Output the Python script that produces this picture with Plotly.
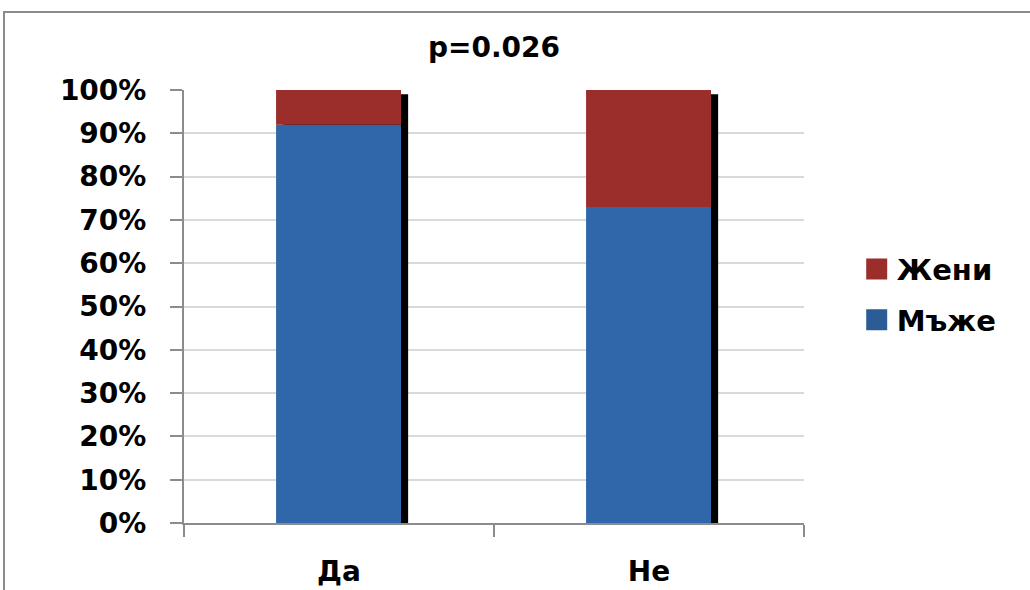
import plotly.graph_objects as go

categories = ["Да", "Не"]
men = [92, 73]
women = [8, 27]
series_names = ["Мъже", "Жени"]
title_text = "p=0.026"

totals = [m + w for m, w in zip(men, women)]

BLUE = "#3066AA"
RED = "#9B2D2B"
FONT = "DejaVu Sans"

fig = go.Figure()

# shadow behind bars
fig.add_trace(go.Bar(
    x=categories, y=totals, base=[-1] * len(categories),
    offset=-0.18, width=0.403,
    marker=dict(color="black", line=dict(width=0)),
    showlegend=False, hoverinfo="skip",
))
fig.add_trace(go.Bar(
    x=categories, y=men, name=series_names[0],
    offset=-0.203, width=0.403,
    marker=dict(color=BLUE, line=dict(width=0)),
    showlegend=False,
))
fig.add_trace(go.Bar(
    x=categories, y=women, base=men, name=series_names[1],
    offset=-0.203, width=0.403,
    marker=dict(color=RED, line=dict(width=0)),
    showlegend=False,
))

# legend entries with larger square swatches
fig.add_trace(go.Scatter(
    x=[None], y=[None], mode="markers", name=series_names[1],
    marker=dict(symbol="square", size=16, color=RED,
                line=dict(color=RED, width=5)),
    legendgroup="w",
))
fig.add_trace(go.Scatter(
    x=[None], y=[None], mode="markers", name=series_names[0],
    marker=dict(symbol="square", size=16, color="#2B5C96",
                line=dict(color="#2B5C96", width=5)),
    legendgroup="m",
))

fig.update_layout(
    width=1030, height=590,
    margin=dict(l=184, r=226, t=90, b=67, autoexpand=False),
    barmode="overlay",
    paper_bgcolor="white",
    plot_bgcolor="white",
    font=dict(family=FONT, size=28, color="black", weight="bold"),
    title=dict(
        text=title_text, x=0.5, xref="paper", xanchor="center",
        y=1 - 47 / 590, yanchor="middle",
        font=dict(family=FONT, size=28, color="black", weight="bold"),
    ),
    legend=dict(
        x=1.085, xanchor="left", y=0.645, yanchor="top",
        font=dict(family=FONT, size=29, color="black", weight="bold"),
        tracegroupgap=10,
        bgcolor="rgba(0,0,0,0)",
    ),
    showlegend=True,
    shapes=[dict(
        type="rect", xref="paper", yref="paper",
        x0=(4 - 184) / 620, x1=2.0, y0=-1.0, y1=(523 - 12) / 433,
        line=dict(color="#8C8C8C", width=2), fillcolor="rgba(0,0,0,0)",
        layer="below",
    )],
)

fig.update_yaxes(
    range=[0, 100], dtick=10, ticksuffix="%",
    showgrid=True, gridcolor="#D9D9D9", gridwidth=2,
    showline=True, linecolor="#8C8C8C", linewidth=2,
    ticks="outside", ticklen=12, tickcolor="#8C8C8C", tickwidth=2,
    ticklabelstandoff=18, automargin=False,
    tickfont=dict(family=FONT, size=28, color="black", weight="bold"),
    zeroline=False,
)
fig.update_xaxes(
    showline=True, linecolor="#8C8C8C", linewidth=2,
    ticks="outside", ticklen=12, tickcolor="#8C8C8C", tickwidth=2,
    tickson="boundaries", ticklabelstandoff=22, automargin=False,
    tickfont=dict(family=FONT, size=28, color="black", weight="bold"),
    showgrid=False,
)

fig.write_html("out.html")
